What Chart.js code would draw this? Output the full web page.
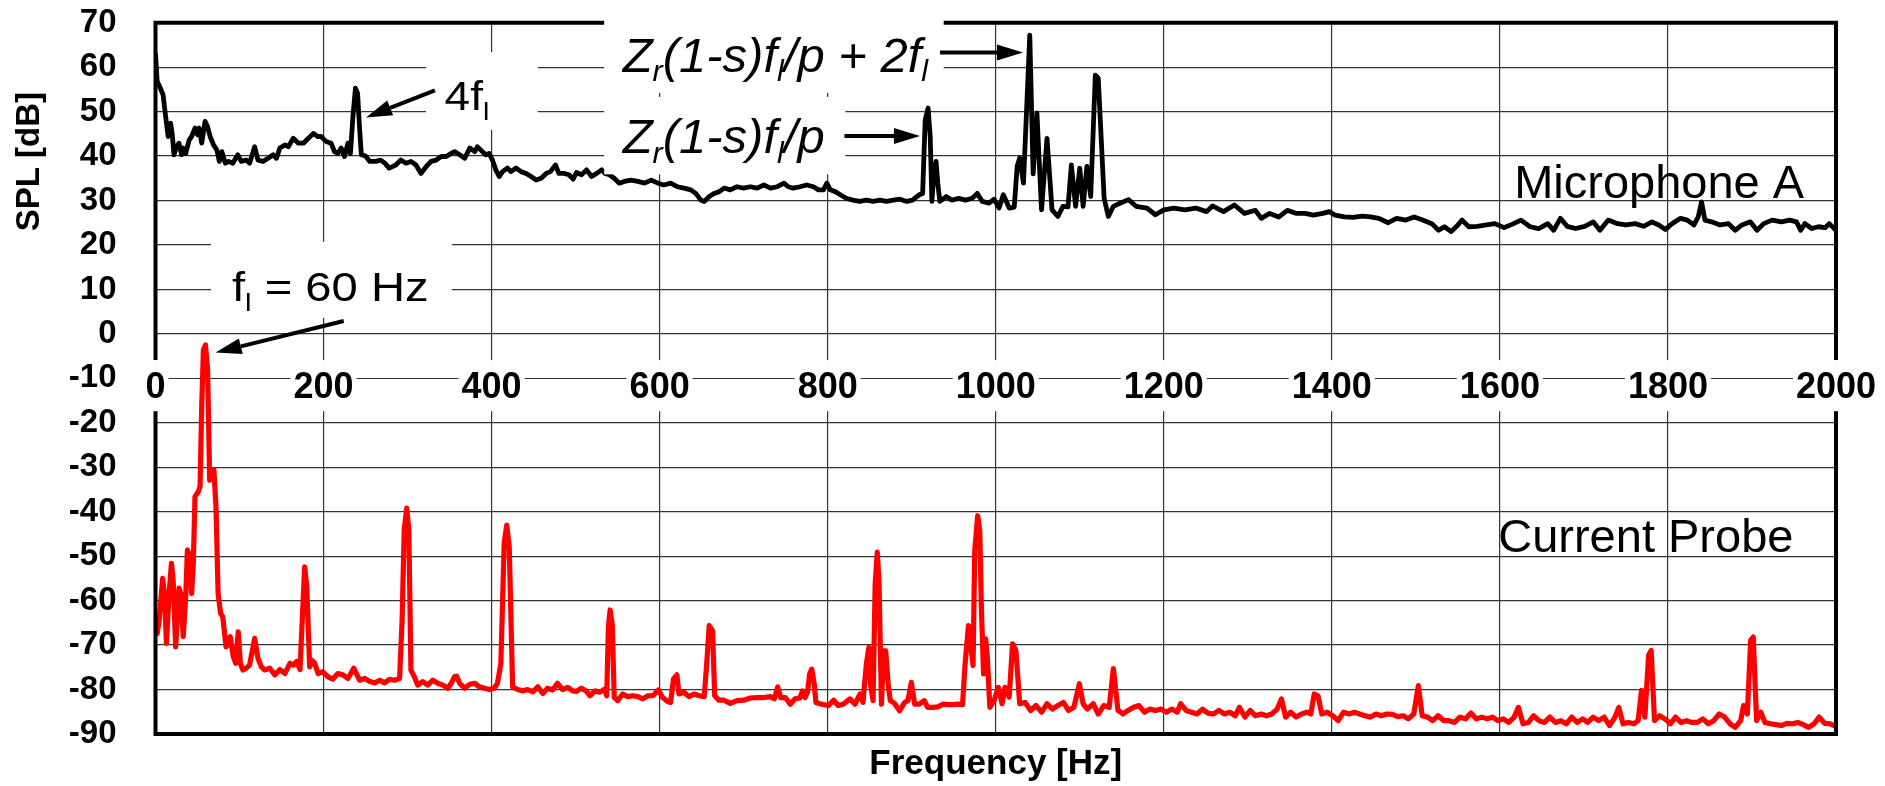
<!DOCTYPE html>
<html>
<head>
<meta charset="utf-8">
<script src="https://cdn.jsdelivr.net/npm/chart.js@4.4.1/dist/chart.umd.min.js"></script>
<style>
  html, body { margin: 0; padding: 0; background: #fff; }
</style>
</head>
<body>
<canvas id="spl" width="1885" height="786"></canvas>
<script>
// tick labels
const xTicks = [0, 200, 400, 600, 800, 1000, 1200, 1400, 1600, 1800, 2000];
const yTicks = [70, 60, 50, 40, 30, 20, 10, 0, -10, -20, -30, -40, -50, -60, -70, -80, -90];

// Microphone A (black)
const micHz = [0, 2, 5, 9, 12, 15, 18, 20, 22, 25, 28, 31, 33, 36, 40, 43, 47, 50, 52, 55,
  59, 62, 65, 69, 73, 76, 79, 83, 87, 92, 98, 102, 108, 112, 118, 122, 128, 134, 140, 144,
  148, 154, 158, 164, 170, 176, 182, 188, 193, 197, 203, 209, 213, 217, 221, 225, 229, 232, 235, 238,
  240.5, 243, 245, 250, 255, 262, 268, 273, 278, 286, 292, 298, 304, 310, 316, 322, 328, 334, 340, 346,
  352, 356, 362, 368, 374, 380, 383, 389, 393, 397, 401, 405, 409, 413, 419, 423, 429, 435, 441, 447,
  453, 459, 465, 470, 476, 480, 486, 492, 497, 501, 507, 513, 519, 525, 531, 535, 540, 546, 552, 558,
  566, 574, 582, 590, 598, 605, 613, 621, 629, 637, 643, 649, 653, 659, 665, 671, 677, 684, 692, 700,
  708, 716, 724, 732, 740, 748, 753, 759, 767, 775, 783, 789, 795, 799, 803, 809, 815, 822, 830, 838,
  846, 854, 862, 870, 878, 886, 894, 901, 909, 913, 916, 919.5, 922, 924, 926.5, 929, 931, 933.5, 941, 948,
  956, 964, 972, 978, 984, 992, 998, 1004, 1009, 1016, 1022, 1025.5, 1028.5, 1033, 1040.5, 1044.5, 1049, 1054.5, 1061, 1067,
  1074, 1080, 1086, 1090, 1095, 1100, 1104, 1108.5, 1113, 1118.5, 1122, 1129, 1134, 1140, 1148, 1158, 1167, 1180, 1190, 1200,
  1212, 1225, 1238, 1251, 1258, 1271, 1284, 1296, 1309, 1316, 1326, 1337, 1347, 1358, 1368, 1378, 1389, 1397, 1404, 1415,
  1425, 1436, 1446, 1456, 1467, 1477, 1488, 1498, 1508, 1519, 1527, 1534, 1542, 1550, 1555, 1563, 1573, 1584, 1594, 1605,
  1615, 1625, 1636, 1646, 1657, 1664, 1672, 1680, 1690, 1701, 1711, 1719, 1729, 1740, 1750, 1761, 1771, 1781, 1789, 1797,
  1805, 1815, 1823, 1831, 1836, 1840, 1844, 1852, 1862, 1872, 1880, 1888, 1898, 1906, 1914, 1924, 1935, 1945, 1953, 1958,
  1963, 1971, 1979, 1987, 1992, 2000];
const micDb = [63.1, 56.8, 55.6, 53.8, 49, 44.4, 47.4, 44.8, 40.3, 42.1, 42.9, 40.3, 41.8, 40.6, 43.6, 44.4, 46.3, 44.8, 46.3, 42.9,
  47.8, 46.6, 44.4, 42.5, 41.4, 38.8, 41, 38.4, 38.8, 38.4, 40.3, 38.8, 39.1, 38.4, 42.1, 39.1, 38.8, 39.5, 40.3, 39.5,
  41.8, 42.5, 42.1, 44, 42.9, 42.9, 44, 45.1, 44.4, 44.4, 43.3, 42.9, 41, 40.6, 41.8, 39.9, 42.9, 40.6, 49, 55.3,
  54.1, 45.9, 40.3, 40, 38.8, 38.8, 39.1, 38.4, 37.3, 38, 39.1, 38.4, 38.8, 38, 36.1, 37.6, 38.8, 39.1, 39.9, 39.9,
  40.6, 41, 40.3, 39.5, 41.8, 41, 42.1, 41, 40.3, 40.6, 39.1, 36.9, 35.4, 36.5, 37.3, 36.5, 37.3, 36.5, 36.1, 35.4,
  34.6, 35, 36.1, 36.5, 38, 36.1, 36.1, 35.8, 34.8, 36.3, 35.8, 36.9, 35.4, 36.1, 36.9, 36.1, 35.8, 35, 33.9, 34.3,
  34.6, 34.3, 33.9, 34.6, 33.9, 33.5, 33.9, 33.1, 32.8, 32.4, 31.6, 30.1, 29.8, 30.9, 31.6, 32, 32.8, 32.4, 33.1, 32.8,
  33.1, 32.8, 33.5, 32.8, 33.1, 33.9, 33.1, 32.8, 33.1, 33.5, 33.1, 32.4, 32.4, 33.9, 32.4, 32, 31.3, 30.5, 30.1, 29.8,
  30.1, 29.8, 30.1, 29.8, 30.1, 30.3, 29.8, 30.1, 31.3, 31.6, 48.1, 50.8, 44.4, 29.8, 36.1, 38.8, 33.9, 29.8, 30.9, 30.1,
  30.5, 30.1, 30.5, 31.6, 29.8, 29.4, 30.3, 28.3, 31.3, 28.3, 28.5, 37.7, 39.6, 33.9, 67.2, 36, 49.7, 27.9, 44, 27.9,
  26.4, 28.7, 28.6, 38, 28.7, 37.3, 28.7, 37.7, 30.9, 58.2, 57.5, 30.5, 26.4, 28.7, 29.4, 30.2, 28.7, 28.3, 26.8, 27.9,
  28.3, 27.9, 28.3, 27.5, 28.8, 27.5, 29, 27.1, 27.8, 26, 27.1, 26.3, 27.8, 27.1, 27.1, 26.7, 27.1, 27.5, 26.7, 26.3,
  26.2, 26.5, 26.3, 26, 25, 26, 25.6, 26.3, 25.6, 24.8, 23.3, 24.1, 23, 24.5, 25.6, 24.1, 24.2, 24.5, 24.8, 23.9,
  24.7, 25.6, 24.1, 23.7, 24.8, 23.3, 26, 24.2, 23.7, 24.2, 25.2, 23.3, 25.6, 24.8, 24.5, 24.8, 24.2, 25.2, 24.5, 23.5,
  24.8, 26, 25.6, 24.5, 26.3, 29.7, 25.6, 25.2, 24.5, 24.8, 23.3, 24.5, 25.2, 23.3, 24.8, 25.6, 25.2, 25.6, 25.2, 23.3,
  24.8, 23.7, 24.1, 23.9, 24.8, 23.3];

// Current Probe (red)
const probeHz = [0, 2, 4.5, 8.5, 11, 13, 16, 19, 21, 24, 28, 30, 33, 36, 38, 41, 43, 45, 47, 51,
  53, 55, 57, 59.5, 62, 64.5, 66.5, 69.5, 72, 74.5, 77.5, 80, 84, 86.5, 89, 92.5, 95.5, 98.5, 101, 104,
  108, 112, 118, 122, 126, 130, 136, 142, 148, 154, 160, 164, 168, 172, 175, 177.5, 180, 183.5, 186, 189.5,
  193.5, 199, 205, 211, 217, 223, 229, 236, 239, 243, 249, 255, 261, 267, 272.5, 278.5, 284.5, 290.5, 293.5, 296,
  299, 301.5, 304, 308, 312, 318, 324, 330, 336, 342, 348, 352, 356, 358.5, 362, 368, 374, 380, 385.5, 391.5,
  397.5, 403, 407, 411, 415, 418, 421, 425, 431, 437, 443, 449, 455, 461, 466.5, 472.5, 478.5, 484.5, 490.5, 496.5,
  501, 507, 513, 517, 523, 529, 534.5, 537, 539, 541, 543.5, 546, 550, 556, 562, 568, 574, 580, 586, 592,
  598.5, 603.5, 609.5, 613, 616.5, 620.5, 623, 629, 635, 641, 647, 653, 656, 659, 663, 665.5, 670.5, 676.5, 684, 692,
  700, 708, 716, 724, 732, 736.5, 740.5, 744, 749.5, 755.5, 761, 767, 770, 773, 776, 778.5, 781, 784, 786, 793,
  801, 807, 812.5, 818.5, 826.5, 832.5, 838.5, 842, 846, 849, 851, 854, 856.5, 859, 861, 864, 866.5, 869, 872, 874.5,
  879.5, 885.5, 891.5, 895.5, 899.5, 903.5, 909, 915, 919, 925, 931, 937, 943, 948.5, 954.5, 960.5, 963.5, 967.5, 970.5, 973,
  975, 978.5, 981, 983, 985.5, 988, 990, 993, 998, 1003, 1007.5, 1011, 1016, 1020, 1024, 1028.5, 1035, 1041.5, 1048, 1054.5,
  1061, 1067.5, 1074, 1080.5, 1086.5, 1093, 1099.5, 1104, 1109, 1116, 1122, 1128.5, 1135, 1140, 1145.5, 1151.5, 1157.5, 1164, 1170.5, 1177,
  1183.5, 1190, 1196.5, 1203, 1209.5, 1216, 1220, 1226.5, 1233, 1239.5, 1246, 1252.5, 1259, 1265.5, 1272, 1278.5, 1285, 1290, 1296.5, 1303,
  1309, 1316, 1322, 1328.5, 1335, 1340, 1345, 1351, 1357.5, 1364, 1370.5, 1375, 1379, 1383.5, 1388, 1394.5, 1401, 1407.5, 1414, 1420.5,
  1427, 1433, 1439.5, 1446, 1452.5, 1459, 1465.5, 1472, 1478.5, 1485, 1491, 1497.5, 1503, 1507.5, 1514, 1520, 1526.5, 1533, 1539.5, 1546,
  1552.5, 1559, 1565.5, 1572, 1578.5, 1585, 1591, 1597.5, 1604, 1610.5, 1617, 1622, 1627.5, 1634, 1640, 1646.5, 1653, 1659.5, 1666, 1672.5,
  1679, 1685.5, 1692, 1698.5, 1704.5, 1711, 1717.5, 1724, 1730.5, 1737, 1741.5, 1746.5, 1753, 1759.5, 1764.5, 1768.5, 1772.5, 1777, 1780, 1784,
  1790, 1796.5, 1803, 1809, 1815.5, 1822, 1828.5, 1835, 1841.5, 1848, 1854.5, 1861, 1867.5, 1874, 1880, 1886.5, 1890, 1894.5, 1898.5, 1901.5,
  1905.5, 1910.5, 1915.5, 1922, 1928.5, 1935, 1941.5, 1948, 1954.5, 1961, 1967.5, 1974, 1980, 1986.5, 1993, 2000];
const probeDb = [-67, -67.4, -64.4, -55, -59, -69.6, -59, -51.6, -55.4, -70.4, -57.2, -58.4, -68.1, -59, -48.6, -50.1, -58.4, -51.6, -36.6, -35.5,
  -34.4, -16.4, -3.6, -2.5, -8.1, -32.9, -31, -30.6, -38.9, -58.4, -62.9, -63.6, -70.4, -69.6, -68.1, -72.6, -74.1, -67, -74.1, -75.6,
  -75.2, -74.5, -68.5, -73, -74.9, -75.6, -75.2, -76.7, -75.5, -76.4, -74.1, -74.5, -73.7, -75.5, -62.9, -52.4, -56.9, -74.9, -73.4, -74.1,
  -76.4, -76, -77.1, -77.7, -76.4, -76.7, -77.5, -75.2, -76.4, -77.9, -77.5, -78.2, -78.5, -77.9, -78.5, -77.7, -77.9, -77.5, -64.4, -44.1,
  -39.2, -44.1, -75.6, -77.1, -79, -78.2, -79, -77.9, -78.6, -79, -79.7, -78.6, -77.1, -77, -78.6, -79.7, -78.8, -78.6, -79.4, -79.7,
  -80, -79.7, -78.6, -74.1, -47.1, -43, -47.9, -79.4, -80, -80.3, -80, -80.5, -79.4, -80.9, -79.7, -80.1, -78.6, -80, -79.5, -80.3,
  -80.4, -79.7, -80.4, -81.4, -80.3, -80.6, -79.9, -81.4, -66, -62.1, -65.3, -81.8, -82.5, -81, -81.6, -81.4, -81.6, -82.1, -81.4, -81.4,
  -80.1, -81.8, -82.7, -82.9, -77.6, -76.7, -81, -80.6, -81.6, -81, -81.4, -81.6, -74.3, -65.6, -66.8, -81.4, -82.4, -82.4, -83.1, -82.5,
  -82.4, -81.9, -81.8, -81.8, -81.6, -82.1, -79.4, -81.8, -81.8, -83.3, -82.1, -81.9, -80.3, -81.8, -80.6, -76.5, -75.4, -78.8, -82.9, -83.3,
  -83.6, -82.4, -83.6, -83.3, -82.1, -83.3, -81, -82.9, -74.3, -70.5, -78.8, -82.5, -56.3, -49.1, -55.5, -83.3, -71.3, -71.3, -78.8, -82.5,
  -83.1, -84.8, -82.9, -82.5, -78.4, -83.3, -83.3, -82.5, -84, -84, -83.9, -83.3, -83.4, -83.4, -83.3, -83.4, -74.3, -65.6, -70.5, -74.6,
  -48.8, -40.9, -44.3, -62.3, -76.5, -68.6, -72.8, -84, -82.5, -79.5, -83.2, -79.5, -81.7, -69.7, -71.2, -83.2, -82.9, -84.7, -83.6, -85.1,
  -83.2, -84.4, -83.6, -82.9, -84.7, -84, -78.7, -83.2, -84.4, -83.2, -85.5, -83.6, -84, -75.3, -84.7, -85.5, -84.7, -84, -83.6, -85.1,
  -84.4, -84.7, -84.4, -85.1, -84.4, -85.1, -83.2, -84.7, -85.1, -85.5, -84.4, -85.3, -85.5, -84.7, -85.5, -85.1, -85.9, -84, -86.2, -84.7,
  -85.9, -85.5, -85.9, -85.5, -84.4, -82.1, -86.2, -85.1, -86.2, -85.5, -85.1, -85.5, -81, -81.4, -85.5, -85.1, -85.9, -87, -85.1, -85.5,
  -85.1, -85.5, -85.9, -86.2, -85.5, -85.9, -85.5, -85.6, -86.1, -85.9, -86.6, -85.5, -79.1, -85.9, -86.2, -87, -85.9, -87, -87, -87.4,
  -86.2, -86.6, -85.3, -86.6, -86.2, -86.6, -86.2, -87, -86.6, -87.4, -86.2, -84, -87.7, -87.4, -85.9, -87, -87.4, -86.2, -87.4, -87,
  -87.7, -86.2, -87.4, -86.6, -87.4, -86.2, -87, -86.2, -88.1, -86.2, -84, -87.7, -87.4, -87.7, -87, -80.2, -86.2, -72.3, -71.2, -87,
  -85.9, -86.6, -87.7, -86.2, -87.4, -87, -87.4, -87.4, -86.6, -87.7, -87, -85.5, -86.2, -87.7, -88.5, -87, -83.6, -85.5, -68.9, -68.2,
  -87, -85.1, -87.4, -87.7, -87.9, -88.1, -87.6, -87.7, -87.4, -87.9, -88.5, -87.7, -86.2, -87.6, -87.7, -88.3];

const family = '"Liberation Sans", Arial, sans-serif';
const gridColor = '#333333';

// annotation layout, in Hz / dB
const labelBand = { top: -5.9, bottom: -17.4 };
const boxes = [
  { x0: 322, x1: 455, y0: 63.4, y1: 45.9 },
  { x0: 66, x1: 353, y0: 20.7, y1: 3.6 },
  { x0: 534, x1: 938, y0: 73, y1: 54.2 },
  { x0: 534, x1: 821, y0: 53.3, y1: 35.9 }
];
const notes = [
  { x: 344, y: 50.4, size: 40, stretch: 1.15, italic: false, sub: 0.25, parts: [['4f'], ['l', 1]] },
  { x: 91, y: 7.5, size: 40, stretch: 1.18, italic: false, sub: 0.26, parts: [['f'], ['l', 1], [' = 60 Hz']] },
  { x: 556, y: 59, size: 49, stretch: 1, italic: true, sub: 0.2, parts: [['Z'], ['r', 1], ['(1-s)f'], ['l', 1], ['/p + 2f'], ['l', 1]] },
  { x: 556, y: 40.6, size: 49, stretch: 1, italic: true, sub: 0.2, parts: [['Z'], ['r', 1], ['(1-s)f'], ['l', 1], ['/p']] },
  { x: 1617, y: 30.6, size: 47, stretch: 1, italic: false, sub: 0, parts: [['Microphone A']] },
  { x: 1598, y: -49.1, size: 47, stretch: 1, italic: false, sub: 0, parts: [['Current Probe']] }
];
const arrows = [
  { x0: 332.6, y0: 54.8, x1: 250.5, y1: 48.7 },
  { x0: 224, y0: 2.9, x1: 71.5, y1: -4.2 },
  { x0: 933.6, y0: 63.3, x1: 1032.4, y1: 63.3 },
  { x0: 820, y0: 44.5, x1: 909.8, y1: 44.5 }
];

function toPoints(xs, ys) {
  return xs.map((x, i) => ({ x: x, y: ys[i] }));
}

function drawParts(ctx, n, px, py) {
  ctx.save();
  ctx.translate(px, py);
  ctx.scale(n.stretch, 1);
  ctx.textBaseline = 'alphabetic';
  ctx.textAlign = 'left';
  let cx = 0;
  for (const [t, isSub] of n.parts) {
    const s = isSub ? n.size * 0.62 : n.size;
    ctx.font = (n.italic ? 'italic ' : '') + s + 'px ' + family;
    ctx.fillText(t, cx, isSub ? n.size * n.sub : 0);
    cx += ctx.measureText(t).width;
  }
  ctx.restore();
}

function drawArrow(ctx, x0, y0, x1, y1) {
  const ang = Math.atan2(y1 - y0, x1 - x0);
  const hl = 26, hw = 8;
  const bx = x1 - hl * Math.cos(ang), by = y1 - hl * Math.sin(ang);
  ctx.lineWidth = 4;
  ctx.beginPath();
  ctx.moveTo(x0, y0);
  ctx.lineTo(bx, by);
  ctx.stroke();
  ctx.beginPath();
  ctx.moveTo(x1, y1);
  ctx.lineTo(bx - hw * Math.sin(ang), by + hw * Math.cos(ang));
  ctx.lineTo(bx + hw * Math.sin(ang), by - hw * Math.cos(ang));
  ctx.closePath();
  ctx.fill();
}

const decor = {
  id: 'decor',
  beforeDatasetsDraw(c) {
    const { ctx, chartArea: a, scales: { x, y } } = c;
    const bt = y.getPixelForValue(labelBand.top), bb = y.getPixelForValue(labelBand.bottom);
    const y10 = Math.round(y.getPixelForValue(-10)) + 0.5;
    ctx.save();
    ctx.fillStyle = '#fff';
    ctx.fillRect(a.left - 4, bt, a.right - a.left + 8, bb - bt);
    ctx.strokeStyle = gridColor;
    ctx.lineWidth = 1.2;
    ctx.beginPath();
    ctx.moveTo(a.left, y10);
    ctx.lineTo(a.right, y10);
    ctx.stroke();
    ctx.restore();
  },
  afterDatasetsDraw(c) {
    const { ctx, chartArea: a, scales: { x, y } } = c;
    const bt = y.getPixelForValue(labelBand.top), bb = y.getPixelForValue(labelBand.bottom);
    ctx.save();
    // frame, open at the tick label row
    ctx.strokeStyle = '#000';
    ctx.lineWidth = 4;
    ctx.beginPath();
    ctx.moveTo(a.left - 2, a.top); ctx.lineTo(a.right + 2, a.top);
    ctx.moveTo(a.left - 2, a.bottom); ctx.lineTo(a.right + 2, a.bottom);
    ctx.moveTo(a.left, a.top); ctx.lineTo(a.left, bt);
    ctx.moveTo(a.left, bb); ctx.lineTo(a.left, a.bottom);
    ctx.moveTo(a.right, a.top); ctx.lineTo(a.right, bt);
    ctx.moveTo(a.right, bb); ctx.lineTo(a.right, a.bottom);
    ctx.stroke();
    // white label boxes
    ctx.fillStyle = '#fff';
    for (const b of boxes) {
      const l = x.getPixelForValue(b.x0), r = x.getPixelForValue(b.x1);
      const t = y.getPixelForValue(b.y0), btm = y.getPixelForValue(b.y1);
      ctx.fillRect(l, t, r - l, btm - t);
    }
    ctx.fillStyle = '#000';
    ctx.strokeStyle = '#000';
    for (const n of notes) {
      drawParts(ctx, n, x.getPixelForValue(n.x), y.getPixelForValue(n.y));
    }
    for (const w of arrows) {
      drawArrow(ctx, x.getPixelForValue(w.x0), y.getPixelForValue(w.y0),
        x.getPixelForValue(w.x1), y.getPixelForValue(w.y1));
    }
    // y axis title
    ctx.translate(a.left - 126, a.top + 139);
    ctx.rotate(-Math.PI / 2);
    ctx.font = 'bold 33px ' + family;
    ctx.textAlign = 'center';
    ctx.textBaseline = 'middle';
    ctx.fillText('SPL [dB]', 0, 0);
    ctx.restore();
  }
};

new Chart(document.getElementById('spl'), {
  type: 'line',
  data: {
    datasets: [
      {
        label: 'Microphone A',
        data: toPoints(micHz, micDb),
        borderColor: '#000000',
        borderWidth: 4.8,
        pointRadius: 0,
        borderJoinStyle: 'round'
      },
      {
        label: 'Current Probe',
        data: toPoints(probeHz, probeDb),
        borderColor: '#ff0000',
        borderWidth: 5.2,
        pointRadius: 0,
        borderJoinStyle: 'round'
      }
    ]
  },
  options: {
    responsive: false,
    animation: false,
    devicePixelRatio: 1,
    layout: { padding: { left: 0, right: 49, top: 22.7, bottom: 4.5 } },
    plugins: {
      legend: { display: false },
      tooltip: { enabled: false },
      title: {
        display: true,
        position: 'bottom',
        fullSize: false,
        text: 'Frequency [Hz]',
        color: '#000',
        font: { family: family, size: 35, weight: 'bold', lineHeight: 1 },
        padding: { top: 12.5, bottom: 0 }
      }
    },
    scales: {
      x: {
        type: 'linear',
        min: 0,
        max: 2000,
        position: { y: -10 },
        afterBuildTicks: s => { s.ticks = xTicks.map(v => ({ value: v })); },
        grid: { color: gridColor, lineWidth: 1.2, drawTicks: false },
        border: { display: false },
        ticks: {
          z: 1,
          color: '#000',
          font: { family: family, size: 36, weight: 'bold', lineHeight: 1 },
          padding: -8.5,
          maxRotation: 0,
          autoSkip: false,
          showLabelBackdrop: true,
          backdropColor: '#fff',
          backdropPadding: { x: 3, y: 0 },
          callback: v => String(v)
        }
      },
      y: {
        type: 'linear',
        min: -90,
        max: 70,
        afterBuildTicks: s => { s.ticks = yTicks.map(v => ({ value: v })); },
        afterFit: s => { s.width = 155.5; s.paddingTop = 0; s.paddingBottom = 0; },
        grid: { color: gridColor, lineWidth: 1.2, drawTicks: false },
        border: { display: false },
        ticks: {
          color: '#000',
          font: { family: family, size: 33, weight: 'bold' },
          padding: 39,
          autoSkip: false,
          callback: v => String(v)
        }
      }
    }
  },
  plugins: [decor]
});
</script>
</body>
</html>
